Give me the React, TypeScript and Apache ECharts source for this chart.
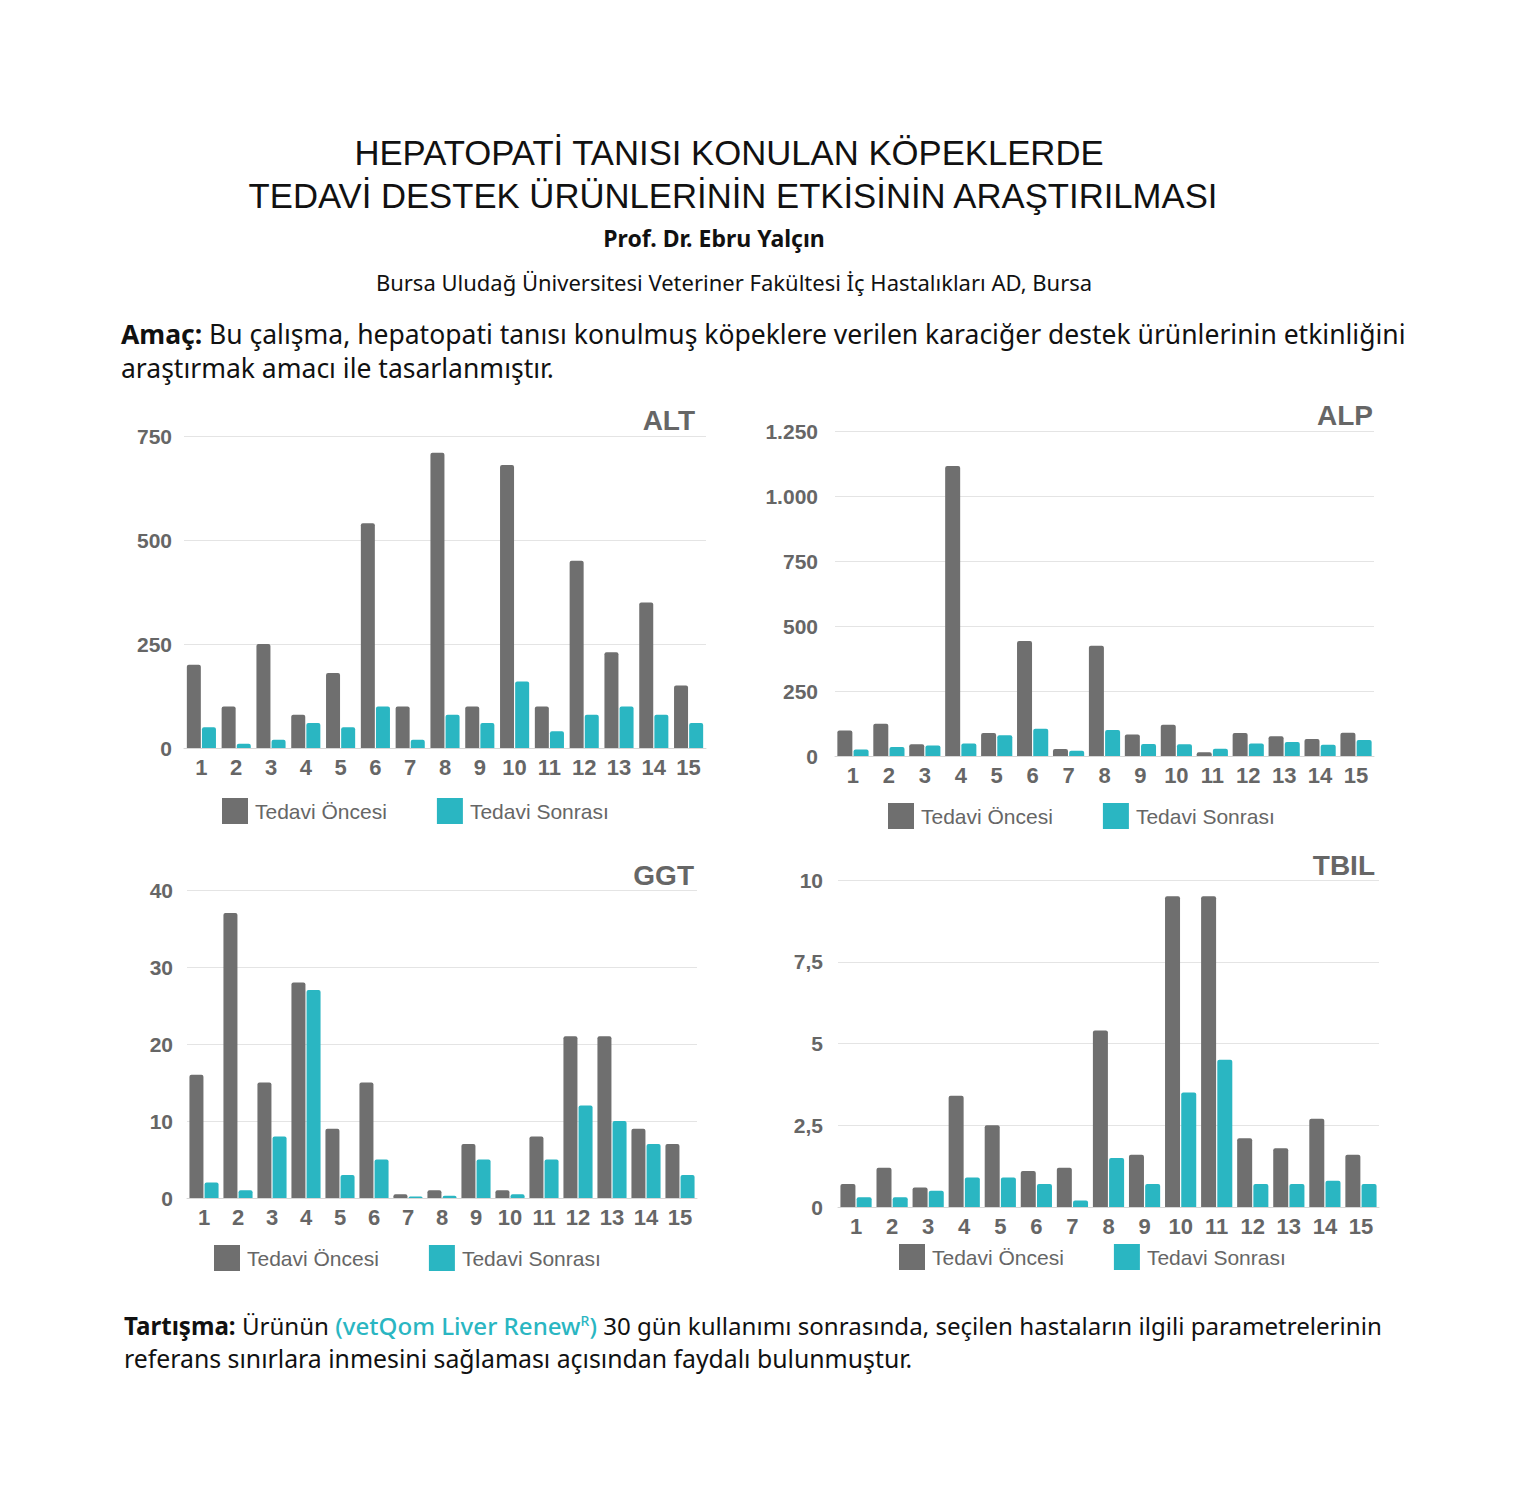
import React, { useEffect, useRef } from "react";
import * as echarts from "echarts";

const categories = ["1", "2", "3", "4", "5", "6", "7", "8", "9", "10", "11", "12", "13", "14", "15"];
const seriesNames = ["Tedavi Öncesi", "Tedavi Sonrası"];

const altBefore = [200, 100, 250, 80, 180, 540, 100, 710, 100, 680, 100, 450, 230, 350, 150];
const altAfter = [50, 10, 20, 60, 50, 100, 20, 80, 60, 160, 40, 80, 100, 80, 60];

const alpBefore = [98, 124, 45, 1115, 88, 442, 27, 424, 83, 120, 14, 88, 76, 65, 89];
const alpAfter = [25, 35, 40, 48, 80, 105, 20, 100, 46, 45, 28, 48, 54, 43, 62];

const ggtBefore = [16, 37, 15, 28, 9, 15, 0.5, 1, 7, 1, 8, 21, 21, 9, 7];
const ggtAfter = [2, 1, 8, 27, 3, 5, 0.2, 0.3, 5, 0.5, 5, 12, 10, 7, 3];

const tbilBefore = [0.7, 1.2, 0.6, 3.4, 2.5, 1.1, 1.2, 5.4, 1.6, 9.5, 9.5, 2.1, 1.8, 2.7, 1.6];
const tbilAfter = [0.3, 0.3, 0.5, 0.9, 0.9, 0.7, 0.2, 1.5, 0.7, 3.5, 4.5, 0.7, 0.7, 0.8, 0.7];

const altTicks = { min: 0, max: 750, interval: 250 };
const alpTicks = { min: 0, max: 1250, interval: 250 };
const ggtTicks = { min: 0, max: 40, interval: 10 };
const tbilTicks = { min: 0, max: 10, interval: 2.5 };

const GRAY = "#6f6f6f";
const TEAL = "#2ab6c2";
const LABEL = "#666666";
const CHART_FONT = "Liberation Sans";
const HEAD_FONT = "Noto Sans";
const TITLE_FONT = "Liberation Sans";

function trNumber(v: number): string {
  const s = String(v).replace(".", ",");
  return s.replace(/\B(?=(\d{3})+(?!\d))/g, ".");
}

export default function App() {
  const ref = useRef<HTMLDivElement>(null);

  useEffect(() => {
    if (!ref.current) return;
    const chart = echarts.init(ref.current, undefined, { renderer: "svg" });

    const panels = [
      { name: "ALT", before: altBefore, after: altAfter, ticks: altTicks, grid: { left: 184, top: 436, width: 522, height: 312 }, labelMargin: 12, barWidth: 14, legend: { left: 222, top: 798 }, title: { x: 695, y: 420 } },
      { name: "ALP", before: alpBefore, after: alpAfter, ticks: alpTicks, grid: { left: 835, top: 431, width: 539, height: 325 }, labelMargin: 17, barWidth: 15, legend: { left: 888, top: 803 }, title: { x: 1373, y: 415 } },
      { name: "GGT", before: ggtBefore, after: ggtAfter, ticks: ggtTicks, grid: { left: 187, top: 890, width: 510, height: 308 }, labelMargin: 14, barWidth: 14, legend: { left: 214, top: 1245 }, title: { x: 694, y: 875 } },
      { name: "TBIL", before: tbilBefore, after: tbilAfter, ticks: tbilTicks, grid: { left: 838, top: 880, width: 541, height: 327 }, labelMargin: 15, barWidth: 15, legend: { left: 899, top: 1244 }, title: { x: 1375, y: 865 } },
    ];

    const grid = panels.map((p) => ({ ...p.grid, containLabel: false }));
    const xAxis = panels.map((p, i) => ({
      type: "category",
      gridIndex: i,
      data: categories,
      axisTick: { show: false },
      axisLine: { show: true, lineStyle: { color: "#d6d6d6", width: 1 } },
      axisLabel: { color: LABEL, fontFamily: CHART_FONT, fontWeight: "bold", fontSize: 22, margin: 8, interval: 0 },
    }));
    const yAxis = panels.map((p, i) => ({
      type: "value",
      gridIndex: i,
      min: p.ticks.min,
      max: p.ticks.max,
      interval: p.ticks.interval,
      axisLine: { show: false },
      axisTick: { show: false },
      splitLine: { show: true, lineStyle: { color: "#e4e4e4", width: 1 } },
      axisLabel: { color: LABEL, fontFamily: CHART_FONT, fontWeight: "bold", fontSize: 21, margin: p.labelMargin, formatter: (v: number) => trNumber(v) },
    }));
    const series: any[] = [];
    panels.forEach((p, i) => {
      series.push({
        type: "bar", name: seriesNames[0], xAxisIndex: i, yAxisIndex: i, data: p.before,
        barWidth: p.barWidth, barGap: "8%", itemStyle: { color: GRAY, borderRadius: [2, 2, 0, 0] },
      });
      series.push({
        type: "bar", name: seriesNames[1], xAxisIndex: i, yAxisIndex: i, data: p.after,
        barWidth: p.barWidth, barGap: "8%", itemStyle: { color: TEAL, borderRadius: [2, 2, 0, 0] },
      });
    });
    const legend = panels.map((p) => ({
      left: p.legend.left, top: p.legend.top, padding: 0, itemGap: 50, itemWidth: 26, itemHeight: 26,
      icon: "rect", data: seriesNames, selectedMode: false,
      textStyle: { color: LABEL, fontFamily: CHART_FONT, fontSize: 21, padding: [0, 0, 0, 2] },
    }));

    const txt = (text: string, x: number, y: number, extra: any = {}) => ({
      type: "text", x, y, silent: true,
      style: { text, fill: "#111", fontFamily: HEAD_FONT, fontSize: 20, align: "center", verticalAlign: "middle", ...extra },
    });

    const graphic: any[] = [
      txt("HEPATOPATİ TANISI KONULAN KÖPEKLERDE", 729, 153, { fontFamily: TITLE_FONT, fontSize: 34.7 }),
      txt("TEDAVİ DESTEK ÜRÜNLERİNİN ETKİSİNİN ARAŞTIRILMASI", 733, 196, { fontFamily: TITLE_FONT, fontSize: 34.7 }),
      txt("Prof. Dr. Ebru Yalçın", 714, 238, { fontWeight: "bold", fontSize: 23 }),
      txt("Bursa Uludağ Üniversitesi Veteriner Fakültesi İç Hastalıkları AD, Bursa", 734, 282, { fontSize: 22 }),
      txt("{b|Amaç:} Bu çalışma, hepatopati tanısı konulmuş köpeklere verilen karaciğer destek ürünlerinin etkinliğini", 121, 334, {
        fontSize: 26.5, align: "left",
        rich: { b: { fontWeight: "bold", fontSize: 26.5, fontFamily: HEAD_FONT, fill: "#111" } },
      }),
      txt("araştırmak amacı ile tasarlanmıştır.", 121, 368, { fontSize: 26.5, align: "left" }),
      txt("{b|Tartışma:} Ürünün {t|(vetQom Liver Renew}{s|R}{t|)} 30 gün kullanımı sonrasında, seçilen hastaların ilgili parametrelerinin", 124, 1325, {
        fontSize: 24.1, align: "left",
        rich: {
          b: { fontWeight: "bold", fontSize: 24.1, fontFamily: HEAD_FONT, fill: "#111" },
          t: { fontWeight: 500, fontSize: 24.1, fontFamily: HEAD_FONT, fill: TEAL },
          s: { fontWeight: 500, fontSize: 14, fontFamily: HEAD_FONT, fill: TEAL, verticalAlign: "top" },
        },
      }),
      txt("referans sınırlara inmesini sağlaması açısından faydalı bulunmuştur.", 124, 1358, { fontSize: 24.8, align: "left" }),
    ];
    panels.forEach((p) => {
      graphic.push(txt(p.name, p.title.x, p.title.y, { fontFamily: CHART_FONT, fontWeight: "bold", fontSize: 28, fill: LABEL, align: "right" }));
    });

    chart.setOption({
      animation: false,
      backgroundColor: "#ffffff",
      grid, xAxis, yAxis, series, legend, graphic,
    });
    return () => chart.dispose();
  }, []);

  return <div ref={ref} style={{ position: "absolute", left: 0, top: 0, width: 1528, height: 1500 }} />;
}
